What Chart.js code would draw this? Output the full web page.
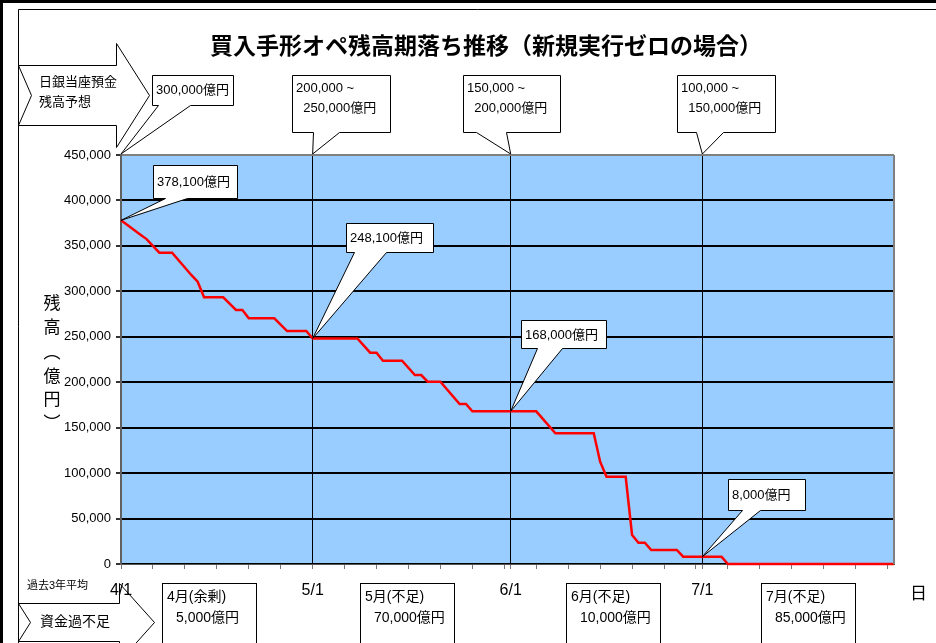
<!DOCTYPE html>
<html>
<head>
<meta charset="utf-8">
<script src="https://cdn.jsdelivr.net/npm/chart.js"></script>
<style>
  html, body { margin: 0; padding: 0; background: #fff; }
</style>
</head>
<body>
<canvas id="opeChart" width="936" height="643"></canvas>
<script>
  // days counted from 4/1, balances in 億円
  const dayOffsets = [0, 3, 4, 6, 8, 11, 12, 13, 16, 18, 19, 20, 24, 26, 29, 30, 37, 39, 40, 41, 44, 46, 47, 48, 50, 53, 54, 55, 61, 65, 68, 74, 75, 76, 79, 80, 81, 82, 83, 87, 88, 94, 95, 121];
  const balances = [378100, 362500, 357500, 342500, 342500, 318000, 310600, 293400, 293400, 279500, 279500, 270300, 270300, 256300, 256300, 248100, 248100, 232500, 232500, 223700, 223700, 207900, 207900, 200600, 200600, 176000, 176000, 168000, 168000, 168000, 143800, 143800, 112600, 96000, 96000, 31900, 23400, 23400, 15400, 15400, 8000, 8000, 0, 0];

  const monthDays = [0, 30, 61, 91];
  const monthLabels = ['4/1', '5/1', '6/1', '7/1'];

  const keyDays = [0, 30, 61, 91];
  const keyLabels = ['378,100億円', '248,100億円', '168,000億円', '8,000億円'];

  const forecastLabels = [['300,000億円'], ['200,000 ~', '  250,000億円'], ['150,000 ~', '  200,000億円'], ['100,000 ~', '  150,000億円']];
  const shortfallLabels = [['4月(余剰)', '5,000億円'], ['5月(不足)', '70,000億円'], ['6月(不足)', '10,000億円'], ['7月(不足)', '85,000億円']];

  const titleText = '買入手形オペ残高期落ち推移（新規実行ゼロの場合）';
  const yTitle = ['残', '高', '︵', '億', '円', '︶'];

  const FONT = '"Liberation Sans", "Noto Sans CJK JP", sans-serif';
  const JP = '"Noto Sans CJK JP", sans-serif';

  function valueAt(day) {
    const i = dayOffsets.indexOf(day);
    if (i >= 0) return balances[i];
    // day falls on a flat stretch: take previous vertex
    let v = balances[0];
    dayOffsets.forEach((d, k) => { if (d <= day) v = balances[k]; });
    return v;
  }

  function callout(ctx, b, tx, ty) {
    const x = b.x + 0.5, y = b.y + 0.5, r = b.x + b.w + 0.5, btm = b.y + b.h + 0.5;
    ctx.beginPath();
    ctx.moveTo(x, y);
    ctx.lineTo(r, y);
    ctx.lineTo(r, btm);
    ctx.lineTo(b.b2 + 0.5, btm);
    ctx.lineTo(tx, ty);
    ctx.lineTo(b.b1 + 0.5, btm);
    ctx.lineTo(x, btm);
    ctx.closePath();
    ctx.fillStyle = '#fff';
    ctx.fill();
    ctx.strokeStyle = '#000';
    ctx.lineWidth = 1;
    ctx.stroke();
  }

  function poly(ctx, pts) {
    ctx.beginPath();
    pts.forEach((p, i) => i ? ctx.lineTo(p[0] + 0.5, p[1] + 0.5) : ctx.moveTo(p[0] + 0.5, p[1] + 0.5));
    ctx.closePath();
    ctx.fillStyle = '#fff';
    ctx.fill();
    ctx.strokeStyle = '#000';
    ctx.lineWidth = 1;
    ctx.stroke();
  }

  const plotBg = {
    id: 'plotBg',
    beforeDraw(chart) {
      const { ctx, chartArea: a } = chart;
      ctx.save();
      ctx.fillStyle = '#fff';
      ctx.fillRect(0, 0, chart.width, chart.height);
      ctx.fillStyle = '#99CCFF';
      ctx.fillRect(a.left, a.top, a.right - a.left, a.bottom - a.top);

      // bottom arrow sits under the axis labels
      poly(ctx, [[18, 603], [119, 603], [119, 583], [154, 622], [119, 661], [119, 641], [18, 641], [30, 622]]);
      ctx.fillStyle = '#000';
      ctx.textBaseline = 'middle';
      ctx.textAlign = 'left';
      ctx.font = '14px ' + JP;
      ctx.fillText('資金過不足', 40, 621);
      ctx.restore();
    },
    afterDatasetsDraw(chart) {
      const { ctx, chartArea: a } = chart;
      ctx.save();
      ctx.strokeStyle = '#808080';
      ctx.lineWidth = 2;
      ctx.beginPath();
      ctx.moveTo(a.right, a.top);
      ctx.lineTo(a.right, a.bottom);
      ctx.stroke();
      ctx.restore();
    }
  };

  const notes = {
    id: 'notes',
    afterDraw(chart) {
      const { ctx, chartArea: a } = chart;
      const xs = chart.scales.x, ys = chart.scales.y;
      ctx.save();

      // frame
      ctx.fillStyle = '#000';
      ctx.fillRect(0, 0, 936, 3);
      ctx.fillRect(0, 0, 3, 643);
      ctx.strokeStyle = '#000';
      ctx.lineWidth = 1;
      ctx.beginPath();
      ctx.moveTo(18.5, 643);
      ctx.lineTo(18.5, 9.5);
      ctx.lineTo(936, 9.5);
      ctx.stroke();

      // title
      ctx.fillStyle = '#000';
      ctx.textBaseline = 'middle';
      ctx.textAlign = 'center';
      ctx.font = 'bold 23px ' + JP;
      ctx.fillText(titleText, 486, 45);

      // y axis title
      ctx.font = '17px ' + JP;
      const yPos = [303, 327, 352, 376, 399, 423];
      yTitle.forEach((c, i) => ctx.fillText(c, 52, yPos[i]));

      // top arrow
      poly(ctx, [[18, 65], [116, 65], [116, 43], [149, 95], [116, 147], [116, 125], [18, 125], [31, 95]]);
      ctx.fillStyle = '#000';
      ctx.textAlign = 'left';
      ctx.font = '13px ' + JP;
      ctx.fillText('日銀当座預金', 39, 81);
      ctx.fillText('残高予想', 39, 101);

      // forecast callouts above the plot
      const topBoxes = [
        { x: 152, y: 75, w: 81, h: 30, b1: 158, b2: 190 },
        { x: 292, y: 75, w: 98, h: 57, b1: 313, b2: 339 },
        { x: 463, y: 75, w: 97, h: 57, b1: 476, b2: 506 },
        { x: 677, y: 75, w: 98, h: 57, b1: 696, b2: 723 }
      ];
      topBoxes.forEach((b, i) => {
        const tx = xs.getPixelForValue(monthDays[i]);
        callout(ctx, b, tx, a.top - 1);
        ctx.fillStyle = '#000';
        ctx.font = '13px ' + FONT;
        const lines = forecastLabels[i];
        if (lines.length === 1) {
          ctx.fillText(lines[0], b.x + 4, b.y + 15);
        } else {
          ctx.fillText(lines[0], b.x + 4, b.y + 13);
          ctx.fillText(lines[1], b.x + 4, b.y + 33);
        }
      });

      // value callouts in the plot
      const inBoxes = [
        { x: 153, y: 165, w: 84, h: 33, b1: 165, b2: 187 },
        { x: 346, y: 223, w: 87, h: 29, b1: 354, b2: 386 },
        { x: 521, y: 320, w: 85, h: 28, b1: 537, b2: 562 },
        { x: 728, y: 479, w: 77, h: 31, b1: 742, b2: 760 }
      ];
      inBoxes.forEach((b, i) => {
        const tx = xs.getPixelForValue(keyDays[i]);
        const ty = ys.getPixelForValue(valueAt(keyDays[i]));
        callout(ctx, b, tx, ty);
        ctx.fillStyle = '#000';
        ctx.font = '13px ' + FONT;
        ctx.fillText(keyLabels[i], b.x + 4, b.y + b.h / 2 + 1);
      });

      // bottom
      ctx.fillStyle = '#000';
      ctx.font = '11px ' + FONT;
      ctx.fillText('過去3年平均', 27, 586);
      ctx.font = '17px ' + JP;
      ctx.fillText('日', 910, 593);

      const lowBoxes = [162, 360, 566, 761];
      lowBoxes.forEach((bx, i) => {
        ctx.fillStyle = '#fff';
        ctx.fillRect(bx, 583, 94, 70);
        ctx.strokeStyle = '#000';
        ctx.lineWidth = 1;
        ctx.strokeRect(bx + 0.5, 583.5, 94, 70);
        ctx.fillStyle = '#000';
        ctx.font = '14px ' + FONT;
        ctx.fillText(shortfallLabels[i][0], bx + 5, 597);
        ctx.fillText(shortfallLabels[i][1], bx + 14, 618);
      });

      ctx.restore();
    }
  };

  const chart = new Chart(document.getElementById('opeChart'), {
    type: 'line',
    data: {
      datasets: [{
        label: '残高',
        data: dayOffsets.map((d, i) => ({ x: d, y: balances[i] })),
        borderColor: '#FF0000',
        borderWidth: 2.5,
        pointRadius: 0,
        tension: 0,
        clip: 3
      }]
    },
    options: {
      responsive: false,
      animation: false,
      locale: 'en-US',
      layout: { padding: { top: 155, right: 42, left: 0, bottom: 0 } },
      plugins: {
        legend: { display: false },
        tooltip: { enabled: false }
      },
      scales: {
        x: {
          type: 'linear',
          min: 0,
          max: 121,
          afterFit: s => { s.height = 79; },
          afterBuildTicks: s => {
            s.ticks.push({ value: 61 }, { value: 91 });
            s.ticks.sort((p, q) => p.value - q.value);
          },
          ticks: {
            stepSize: 5,
            includeBounds: false,
            autoSkip: false,
            maxRotation: 0,
            padding: 12,
            color: '#000',
            font: { size: 16, family: FONT },
            callback: v => {
              const i = monthDays.indexOf(v);
              return i >= 0 ? monthLabels[i] : '';
            }
          },
          grid: {
            color: c => (c.tick && c.tick.value > 0 && monthDays.includes(c.tick.value)) ? '#000' : 'rgba(0,0,0,0)',
            lineWidth: 1,
            tickLength: 5,
            tickColor: '#777'
          },
          border: { color: '#555', width: 1 }
        },
        y: {
          min: 0,
          max: 450000,
          afterFit: s => { s.width = 121; },
          ticks: {
            stepSize: 50000,
            padding: 5,
            color: '#000',
            font: { size: 13, family: FONT }
          },
          grid: {
            color: c => (c.tick && c.tick.value === 450000) ? '#808080' : '#000',
            lineWidth: 2,
            tickLength: 5,
            tickColor: '#333'
          },
          border: { color: '#606060', width: 2 }
        }
      }
    },
    plugins: [plotBg, notes]
  });
</script>
</body>
</html>
